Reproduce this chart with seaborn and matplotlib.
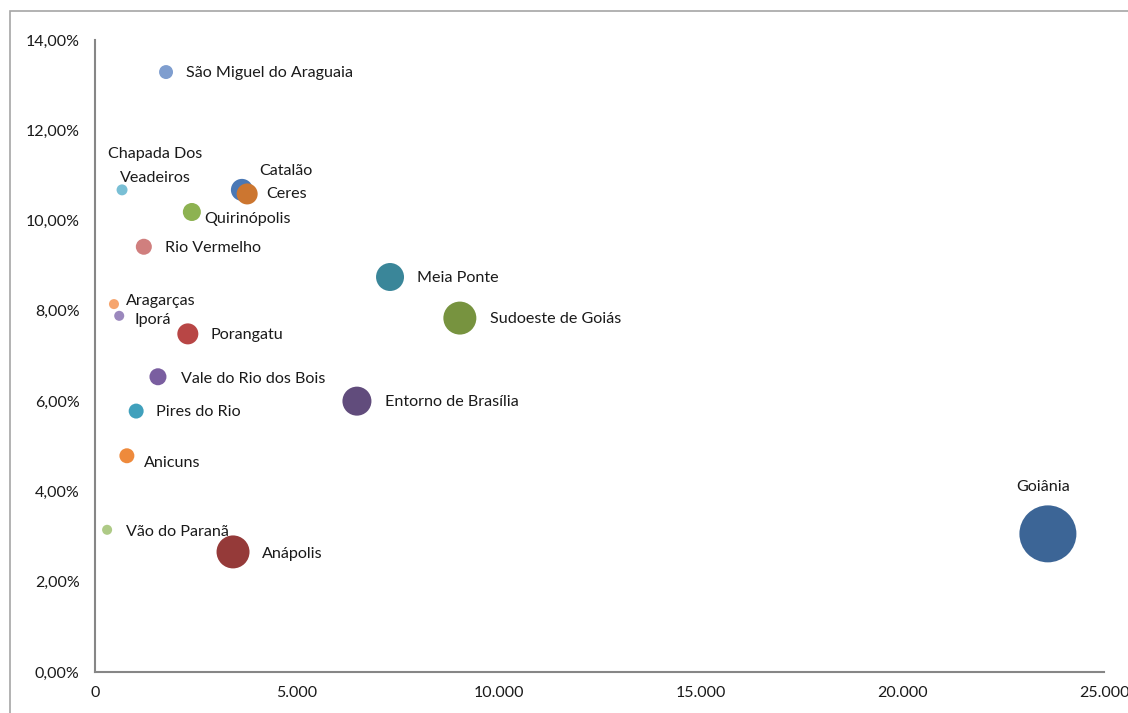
import matplotlib
matplotlib.use("Agg")
import matplotlib.pyplot as plt
import matplotlib.patches as mpatches
from matplotlib.ticker import FuncFormatter, MultipleLocator
import seaborn as sns
import pandas as pd

# Regiões e valores do gráfico de bolhas
regioes = [
    "São Miguel do Araguaia", "Chapada Dos\nVeadeiros", "Catalão", "Ceres",
    "Quirinópolis", "Rio Vermelho", "Meia Ponte", "Aragarças", "Iporá",
    "Porangatu", "Sudoeste de Goiás", "Vale do Rio dos Bois",
    "Entorno de Brasília", "Pires do Rio", "Anicuns", "Vão do Paranã",
    "Anápolis", "Goiânia",
]
eixo_x = [1760, 670, 3640, 3770, 2400, 1210, 7310, 470, 600,
          2300, 9040, 1560, 6490, 1020, 790, 300, 3420, 23610]
taxa = [0.1329, 0.1068, 0.1068, 0.1059, 0.1019, 0.0942, 0.0875, 0.0815,
        0.0789, 0.0749, 0.0784, 0.0654, 0.0600, 0.0578, 0.0479, 0.0315,
        0.0266, 0.0306]
bolha = [6.0, 3.7, 14.9, 13.6, 10.0, 7.9, 24.1, 3.1, 3.1,
         13.6, 33.5, 8.9, 25.9, 6.9, 6.9, 3.1, 33.5, 100.0]

cores = {
    "São Miguel do Araguaia": "#7F9ECF",
    "Chapada Dos\nVeadeiros": "#79BFD5",
    "Catalão": "#4A78B5",
    "Ceres": "#CC7630",
    "Quirinópolis": "#8DB251",
    "Rio Vermelho": "#D07F7E",
    "Meia Ponte": "#3A8699",
    "Aragarças": "#F6A56E",
    "Iporá": "#9B88BD",
    "Porangatu": "#B84645",
    "Sudoeste de Goiás": "#77933F",
    "Vale do Rio dos Bois": "#7A5EA0",
    "Entorno de Brasília": "#614C7C",
    "Pires do Rio": "#40A0BC",
    "Anicuns": "#EE8A3C",
    "Vão do Paranã": "#AECA86",
    "Anápolis": "#953A39",
    "Goiânia": "#3C6596",
}

# deslocamento dos rótulos (pixels) e alinhamento
rotulo_pos = {
    "São Miguel do Araguaia": (20, -1, "left"),
    "Chapada Dos\nVeadeiros": (33, 24, "center"),
    "Catalão": (17, 19, "left"),
    "Ceres": (19, 0, "left"),
    "Quirinópolis": (12, -7, "left"),
    "Rio Vermelho": (21, -1, "left"),
    "Meia Ponte": (27, -1, "left"),
    "Aragarças": (12, 3, "left"),
    "Iporá": (15, -4, "left"),
    "Porangatu": (23, -1, "left"),
    "Sudoeste de Goiás": (30, -1, "left"),
    "Vale do Rio dos Bois": (23, -2, "left"),
    "Entorno de Brasília": (28, -1, "left"),
    "Pires do Rio": (20, -1, "left"),
    "Anicuns": (17, -7, "left"),
    "Vão do Paranã": (19, -2, "left"),
    "Anápolis": (29, -2, "left"),
    "Goiânia": (-5, 47, "center"),
}

df = pd.DataFrame({"regiao": regioes, "x": eixo_x, "taxa": taxa, "bolha": bolha})

sns.set_theme(style="white")
plt.rcParams["font.family"] = ["Lato", "DejaVu Sans"]

W, H = 1128, 713
fig = plt.figure(figsize=(W / 100, H / 100), dpi=100)
ax = fig.add_axes([95 / W, (H - 672) / H, (1104 - 95) / W, (672 - 40) / H])

# bolha de diâmetro 57 px para o valor máximo (área proporcional)
diam_max_pt = 57 * 0.72
areas = [(b / max(bolha)) * diam_max_pt ** 2 for b in bolha]

sns.scatterplot(data=df, x="x", y="taxa", hue="regiao", palette=cores,
                s=areas, linewidth=0, alpha=1, legend=False, ax=ax, zorder=3)

for nome, xv, yv in zip(regioes, eixo_x, taxa):
    dx, dy, ha = rotulo_pos[nome]
    ax.annotate(nome, (xv, yv), xytext=(dx, dy), textcoords="offset pixels",
                ha=ha, va="center", fontsize=11.6, color="#1a1a1a",
                multialignment="center", linespacing=1.95, zorder=4)

ax.set_xlim(0, 25000)
ax.set_ylim(0, 0.14)
ax.xaxis.set_major_locator(MultipleLocator(5000))
ax.yaxis.set_major_locator(MultipleLocator(0.02))
ax.xaxis.set_major_formatter(FuncFormatter(lambda v, p: f"{int(v):,}".replace(",", ".")))
ax.yaxis.set_major_formatter(FuncFormatter(lambda v, p: f"{v * 100:.2f}%".replace(".", ",")))
ax.tick_params(axis="both", length=0, labelsize=11.5, labelcolor="#1a1a1a")
ax.tick_params(axis="y", pad=11)
ax.tick_params(axis="x", pad=10)
ax.set_xlabel("")
ax.set_ylabel("")

for lado in ["top", "right"]:
    ax.spines[lado].set_visible(False)
for lado in ["left", "bottom"]:
    ax.spines[lado].set_color("#868686")
    ax.spines[lado].set_linewidth(1.5)
ax.grid(False)

# moldura do gráfico
moldura = mpatches.Rectangle((10 / W, -0.1), 1.2, (H - 11) / H + 0.1,
                             transform=fig.transFigure, fill=False,
                             edgecolor="#A6A6A6", linewidth=1.2, clip_on=False)
fig.patches.append(moldura)

fig.savefig("out.png", dpi=100)
